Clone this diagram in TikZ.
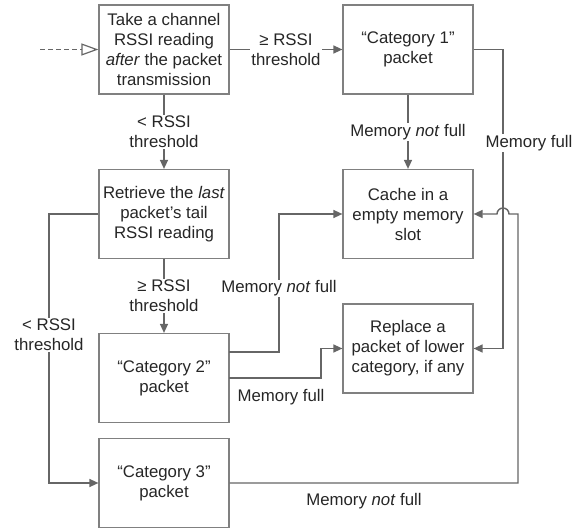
\documentclass[tikz,border=0pt]{standalone}
\usepackage{fontspec}
\setmainfont{Liberation Sans}
\usetikzlibrary{arrows.meta}
\definecolor{linec}{HTML}{666666}
\definecolor{boxc}{HTML}{808080}
\definecolor{txtc}{HTML}{262626}
\begin{document}
\begin{tikzpicture}[x=1pt,y=-1pt,
  every node/.style={text=txtc,font=\fontsize{16.8}{20}\selectfont},
  box/.style={draw=boxc,line width=1.2pt,minimum width=130pt,minimum height=89pt,align=center,inner sep=0pt},
  conn/.style={draw=linec,line width=1.4pt,-{Triangle[length=9pt,width=8pt]}},
  lbl/.style={fill=white,align=center,inner sep=1pt}]
\useasboundingbox (0,0) rectangle (581,529);
\node[box] (A) at (164,49.5) {Take a channel\\RSSI reading\\\textit{after} the packet\\transmission};
\node[box] (C1) at (408,49.5) {“Category 1”\\packet};
\node[box] (R) at (164,214) {Retrieve the \textit{last}\\packet’s tail\\RSSI reading};
\node[box] (CA) at (408,214) {Cache in a\\empty memory\\slot};
\node[box] (RP) at (408,348.5) {Replace a\\packet of lower\\category, if any};
\node[box] (C2) at (164,378) {“Category 2”\\packet};
\node[box] (C3) at (164,483) {“Category 3”\\packet};
\coordinate (in) at (40,49.5);
\draw[draw=linec,line width=1.2pt,dashed,dash pattern=on 5pt off 3pt,-{Triangle[open,length=17pt,width=12pt,line width=1.2pt]}] (in) -- (A.west);
% A -> C1
\draw[conn] (A.east) -- (C1.west) node[lbl,midway] {≥ RSSI\\threshold};
% A -> R
\draw[conn] (A.south) -- (R.north) node[lbl,midway] {< RSSI\\threshold};
% C1 -> CA
\draw[conn] (C1.south) -- (CA.north) node[lbl,midway] {Memory \textit{not} full};
% R -> C2
\draw[conn] (R.south) -- (C2.north) node[lbl,midway] {≥ RSSI\\threshold};
% R -> C3
\coordinate (rl1) at (49,214);
\coordinate (rl2) at (49,483);
\draw[conn] (R.west) -- (rl1) -- node[lbl,pos=0.45] {< RSSI\\threshold} (rl2) -- (C3.west);
% C1 -> RP (memory full)
\coordinate (m1) at (503,49.5);
\coordinate (m2) at (503,348.5);
\draw[conn] (C1.east) -- (m1) -- (m2) -- (RP.east);
\node[lbl] (mf1) at (529,143) {Memory full};
% C2 -> CA
\coordinate (c2a) at (229,352);
\coordinate (c2b) at (279,352);
\coordinate (c2c) at (279,214);
\draw[conn] (c2a) -- (c2b) -- node[lbl,pos=0.46] {Memory \textit{not} full} (c2c) -- (CA.west);
% C2 -> RP
\coordinate (c2d) at (229,378);
\coordinate (c2e) at (321,378);
\coordinate (c2f) at (321,348.5);
\draw[conn] (c2d) -- (c2e) -- (c2f) -- (RP.west);
\node (mf2) at (281,397) {Memory full};
% C3 -> CA with jump
\coordinate (c3a) at (518,483);
\coordinate (c3b) at (518,214);
\coordinate (j1) at (509,214);
\draw[conn] (C3.east) -- (c3a) -- (c3b) -- (j1) arc[start angle=0,end angle=180,radius=6pt] -- (CA.east);
\node (mnf3) at (364,501) {Memory \textit{not} full};
\end{tikzpicture}
\end{document}
